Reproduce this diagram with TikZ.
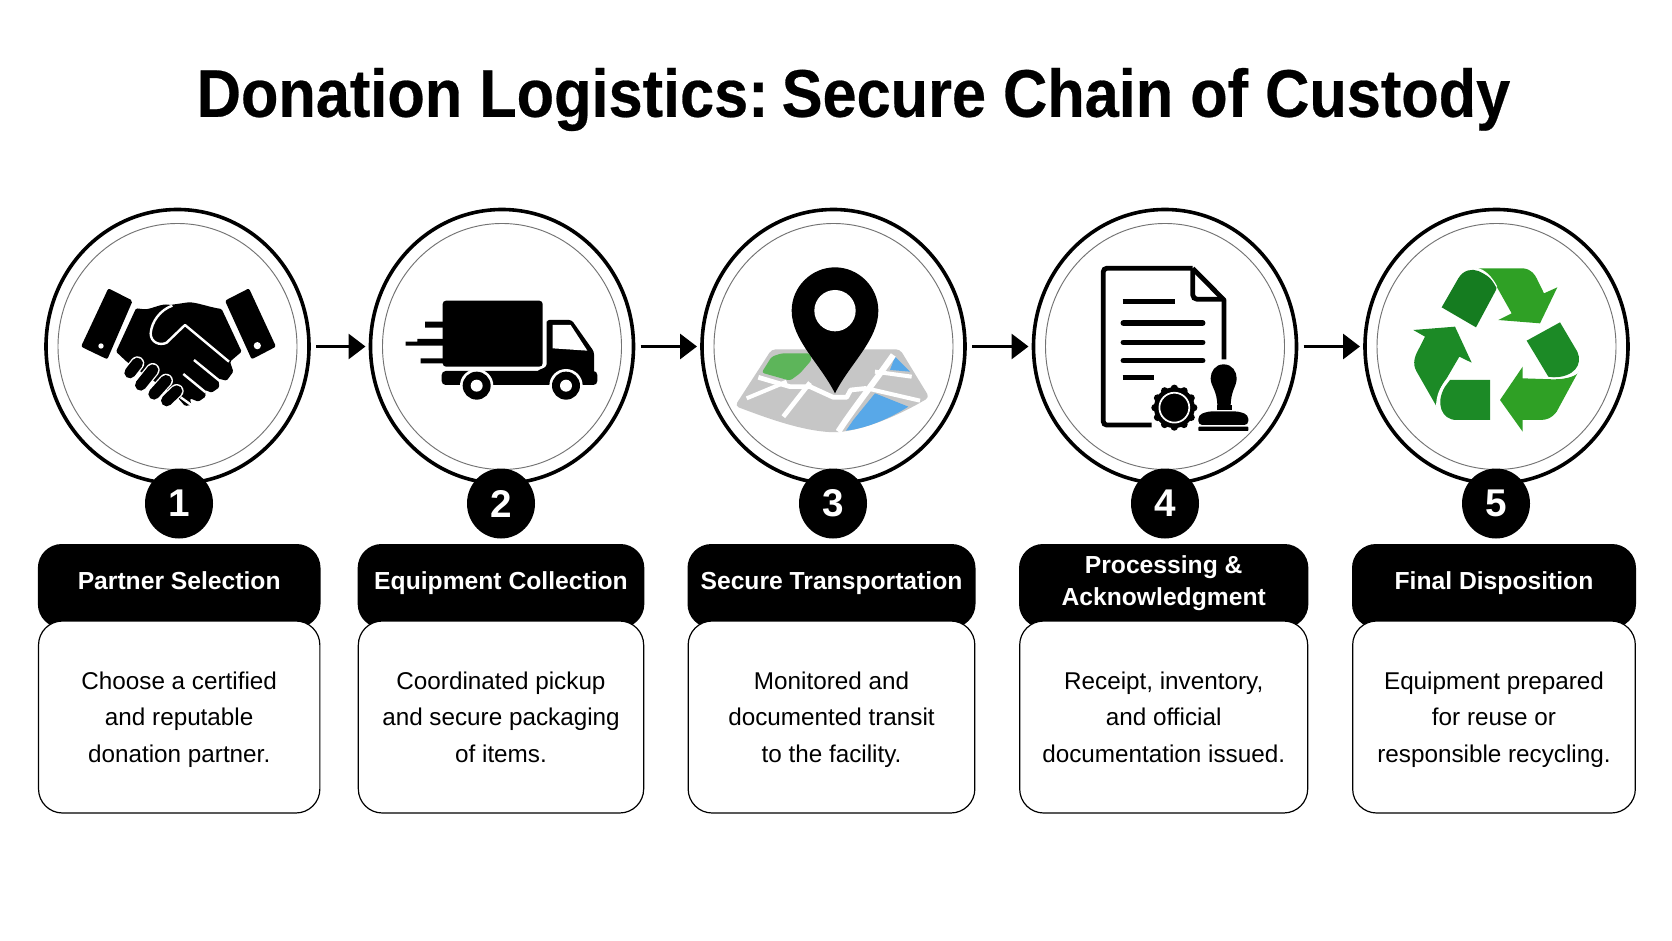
\documentclass[tikz,border=0pt]{standalone}
\usepackage{fontspec}
\setmainfont{Liberation Sans}
\newfontfamily\titlefont[FakeStretch=0.91,BoldFeatures={FakeBold=0.4}]{Liberation Sans}
\usetikzlibrary{shapes.geometric,arrows.meta}
\definecolor{grayb}{HTML}{C6C6C6}
\definecolor{mapgreen}{HTML}{5DB55A}
\definecolor{mapblue}{HTML}{58A8E8}
\definecolor{recA}{HTML}{157C20}
\definecolor{recB}{HTML}{2FA025}
\definecolor{recC}{HTML}{1C8A26}
\tikzset{
  outerc/.style={ellipse,draw=black,line width=2.7pt,fill=white,minimum width=197.25pt,minimum height=205.5pt,inner sep=0pt,outer sep=0pt},
  innerc/.style={ellipse,draw=black!55,line width=.7pt,minimum width=179.25pt,minimum height=184.5pt,inner sep=0pt,outer sep=0pt},
  badge/.style={ellipse,fill=black,text=white,minimum width=51pt,minimum height=52.5pt,inner sep=0pt,font=\fontsize{29}{32}\selectfont\bfseries},
  headbox/.style={rectangle,fill=black,rounded corners=18pt,minimum height=63pt,inner sep=0pt,outer sep=0pt},
  headtext/.style={text=white,inner sep=0pt,font=\fontsize{18.5}{23}\selectfont\bfseries},
  bodybox/.style={rectangle,draw=black,line width=.9pt,fill=white,rounded corners=18pt,minimum height=144pt,inner sep=0pt,outer sep=0pt,align=center,font=\fontsize{18.2}{27.2}\selectfont},
  flow/.style={-{Triangle[length=12.75pt,width=18.75pt]},line width=2.5pt,shorten <=5.25pt,shorten >=3.75pt},
  zoomed/.style={x=0.25pt,y=-0.25pt}
}
\begin{document}
\begin{tikzpicture}[x=0.75pt,y=-0.75pt]
\useasboundingbox (0,0) rectangle (1672,941);
\fill[white] (0,0) rectangle (1672,941);

\node[inner sep=0pt,font=\titlefont\fontsize{50.5}{60}\selectfont\bfseries] (title) at (853.5,99.5) {Donation Logistics:\kern-3pt\ Secure Chain of Custody};

% circles
\node[outerc] (c1) at (177.5,346.5) {};
\node[outerc] (c2) at (502,346.5) {};
\node[outerc] (c3) at (833.5,346.5) {};
\node[outerc] (c4) at (1165,346.5) {};
\node[outerc] (c5) at (1496.5,346.5) {};
\node[innerc] (i1) at (c1) {};
\node[innerc] (i2) at (c2) {};
\node[innerc] (i3) at (c3) {};
\node[innerc] (i4) at (c4) {};
\node[innerc] (i5) at (c5) {};

% connectors
\draw[flow] (c1) -- (c2);
\draw[flow] (c2) -- (c3);
\draw[flow] (c3) -- (c4);
\draw[flow] (c4) -- (c5);

% handshake
\begin{scope}[shift={(30,190)},zoomed]
  \fill[rounded corners=1.5pt] (235,295) -- (308,332) -- (232,508) -- (153,470) -- cycle;
  \fill[rounded corners=1.5pt] (585,332) -- (657,295) -- (738,470) -- (665,508) -- cycle;
  \fill[white] (213,468) circle[radius=2pt] (682,467) circle[radius=2.7pt];
  \fill[rounded corners=1pt] (258,485) -- (318,355) -- (345,358) .. controls (370,355) and (395,340) .. (420,345) -- (475,337) .. controls (500,337) and (540,352) .. (575,357) -- (635,485) -- (600,515) -- (610,545) -- (590,572) -- (565,566) -- (568,592) -- (545,608) -- (525,600) -- (527,620) -- (505,635) -- (480,625) -- (484,645) -- (465,648) -- (445,625) -- (290,515) -- cycle;
  \draw[white,line width=1.8pt,line join=round] (427,347) .. controls (390,360) and (365,395) .. (362,430) .. controls (362,458) and (390,468) .. (410,458) -- (465,405) -- (597,515);
  \draw[white,line width=1.8pt] (492,510) -- (568,572) (460,552) -- (527,607) (452,622) -- (484,645);
  \foreach \ax/\ay/\bx/\by in {300/548/322/520,332/585/368/540,372/612/408/572,410/632/440/603}{
    \draw[white,line width=10.5pt,line cap=round] (\ax,\ay) -- (\bx,\by);
  }
  \foreach \ax/\ay/\bx/\by in {300/548/322/520,332/585/368/540,372/612/408/572,410/632/440/603}{
    \draw[black,line width=8.5pt,line cap=round] (\ax,\ay) -- (\bx,\by);
  }
\end{scope}

% truck
\begin{scope}[shift={(360,190)},zoomed]
  \fill[rounded corners=2.5pt] (248,332) rectangle (548,530);
  \fill (195,395) rectangle (250,413) (172,447) rectangle (250,467) (137,455) rectangle (175,467) (182,505) rectangle (250,520);
  \fill[rounded corners=3pt] (245,543) rectangle (712,585);
  \fill[rounded corners=2pt] (560,400) -- (560,390) -- (635,390) -- (702,485) -- (702,560) -- (530,560) -- (530,543) -- (560,530) -- cycle;
  \fill[white] (578,405) -- (632,405) -- (682,482) -- (578,475) -- cycle;
  \fill[white] (350,587) circle[radius=12.5pt] (618,587) circle[radius=12.5pt];
  \fill[white] (300,600) rectangle (400,640) (568,600) rectangle (668,640);
  \fill (350,587) circle[radius=10.5pt] (618,587) circle[radius=10.5pt];
  \fill[white] (350,587) circle[radius=4.5pt] (618,587) circle[radius=4.5pt];
\end{scope}

% map and pin
\begin{scope}[shift={(690,190)},zoomed]
  \fill[grayb,rounded corners=3pt] (245,478) -- (630,478) -- (718,622) .. controls (620,680) and (520,720) .. (435,727) .. controls (330,722) and (220,680) .. (135,648) -- cycle;
  \fill[mapgreen,rounded corners=2pt] (215,548) -- (245,500) -- (275,490) -- (360,490) -- (365,510) -- (330,550) -- (300,572) -- cycle;
  \fill[mapblue] (555,610) -- (655,650) .. controls (600,685) and (530,715) .. (468,722) -- (490,690) -- cycle;
  \fill[mapblue] (615,500) -- (660,545) -- (600,540) -- cycle;
  \draw[white,line width=3.5pt,line join=round] (205,562) -- (300,590) -- (360,590) -- (430,622) -- (470,622) -- (482,600) -- (530,595);
  \draw[white,line width=3.5pt] (280,680) -- (360,578);
  \draw[white,line width=4.5pt] (445,725) .. controls (480,670) and (550,580) .. (610,495);
  \draw[white,line width=3pt] (170,625) -- (290,575) (530,595) -- (690,632) (555,545) -- (665,560);
  \fill (435,610) .. controls (390,520) and (305,450) .. (305,362) .. controls (305,290) and (365,232) .. (435,232) .. controls (505,232) and (565,290) .. (565,362) .. controls (565,450) and (480,520) .. (435,610) -- cycle;
  \fill[white] (435,362) circle[radius=15.5pt];
\end{scope}

% document
\begin{scope}[shift={(1020,190)},zoomed]
  \draw[line width=3.6pt,rounded corners=2.5pt] (395,705) -- (250,705) -- (250,235) -- (518,235);
  \draw[line width=3.6pt,line join=round] (518,235) -- (612,330) -- (612,508);
  \draw[line width=3.6pt,rounded corners=3.5pt] (518,235) -- (518,328) -- (612,328);
  \draw[line width=4.2pt] (308,334) -- (466,334) (308,563) -- (403,563);
  \draw[line width=4.2pt,line cap=round] (310,399) -- (548,399) (310,457) -- (548,457) (310,512) -- (548,512);
  \fill (463,653) circle[radius=15.3pt];
  \foreach \a in {0,30,...,330}{\fill[shift={(463,653)}] (\a:58) circle[radius=2.8pt];}
  \draw[white,line width=1.3pt] (463,653) circle[radius=11.2pt];
  \fill (611,523) .. controls (585,523) and (572,545) .. (572,565) .. controls (572,590) and (592,600) .. (592,650) -- (632,650) .. controls (632,600) and (650,590) .. (650,565) .. controls (650,545) and (637,523) .. (611,523) -- cycle;
  \fill (590,646) rectangle (636,660);
  \fill[rounded corners=3pt] (535,705) -- (535,675) -- (565,664) -- (655,664) -- (685,675) -- (685,705) -- cycle;
  \fill[rounded corners=.6pt] (535,710) rectangle (685,723);
\end{scope}

% recycling
\begin{scope}[shift={(1340,190)},zoomed]
  \fill[recA] (305,352) -- (355,265) .. controls (370,240) and (395,235) .. (415,243) .. controls (450,258) and (475,285) .. (468,300) -- (408,412) -- cycle;
  \fill[recB] (410,235) -- (550,235) .. controls (575,238) and (585,255) .. (590,265) -- (612,310) -- (652,292) -- (600,400) -- (475,390) -- (515,370) -- (470,290) .. controls (455,262) and (435,240) .. (410,235) -- cycle;
  \fill[recC] (660,397) -- (712,485) .. controls (730,525) and (700,562) .. (640,562) -- (625,560) -- (560,452) -- cycle;
  \fill[recB] (715,545) -- (650,665) .. controls (635,685) and (620,690) .. (600,690) -- (548,690) -- (548,725) -- (480,630) -- (548,530) -- (548,565) -- (640,568) .. controls (675,568) and (705,560) .. (715,545) -- cycle;
  \fill[recC] (220,420) -- (345,410) -- (395,518) -- (358,500) -- (320,565) .. controls (300,590) and (290,620) .. (290,650) -- (230,545) .. controls (215,520) and (225,495) .. (240,470) -- (255,440) -- cycle;
  \fill[recC] (450,570) -- (450,690) -- (350,690) .. controls (305,690) and (285,640) .. (315,590) -- (330,570) -- cycle;
  \draw[white,line width=.9pt] (410,235) .. controls (435,240) and (455,262) .. (470,290);
  \draw[white,line width=.9pt] (625,564) -- (640,565) .. controls (675,565) and (705,558) .. (715,545);
  \draw[white,line width=.9pt] (290,650) .. controls (290,620) and (300,590) .. (325,567);
\end{scope}

% badges
\node[badge] (b1) at (179,503.5) {1};
\node[badge] (b2) at (501,503.5) {2};
\node[badge] (b3) at (833,503.5) {3};
\node[badge] (b4) at (1165,503.5) {4};
\node[badge] (b5) at (1496,503.5) {5};

% headers
\node[headbox,minimum width=212pt] (h1) at (179.2,586) {};
\node[headbox,minimum width=215pt] (h2) at (501,586) {};
\node[headbox,minimum width=216pt] (h3) at (831.5,586) {};
\node[headbox,minimum width=217pt] (h4) at (1163.7,586) {};
\node[headbox,minimum width=213pt] (h5) at (1494,586) {};

% bodies
\node[bodybox,minimum width=211pt] (d1) at (179.2,717) {Choose a certified\\and reputable\\\smash{donation partner.}};
\node[bodybox,minimum width=214pt] (d2) at (501,717) {Coordinated pickup\\and secure packaging\\\smash{of items.}};
\node[bodybox,minimum width=215pt] (d3) at (831.5,717) {Monitored and\\documented transit\\\smash{to the facility.}};
\node[bodybox,minimum width=216pt] (d4) at (1163.7,717) {Receipt, inventory,\\and official\\\smash{documentation issued.}};
\node[bodybox,minimum width=212pt] (d5) at (1494,717) {Equipment prepared\\for reuse or\\\smash{responsible recycling.}};

\node[headtext,anchor=base] (t1) at (179.2,589.5) {Partner Selection};
\node[headtext,anchor=base] (t2) at (501,589.5) {Equipment Collection};
\node[headtext,anchor=base] (t3) at (831.5,589.5) {Secure Transportation};
\node[headtext,anchor=base] (t4a) at (1163.7,573.5) {Processing \&};
\node[headtext,anchor=base] (t4b) at (1163.7,605) {Acknowledgment};
\node[headtext,anchor=base] (t5) at (1494,589.5) {Final Disposition};
\end{tikzpicture}
\end{document}
